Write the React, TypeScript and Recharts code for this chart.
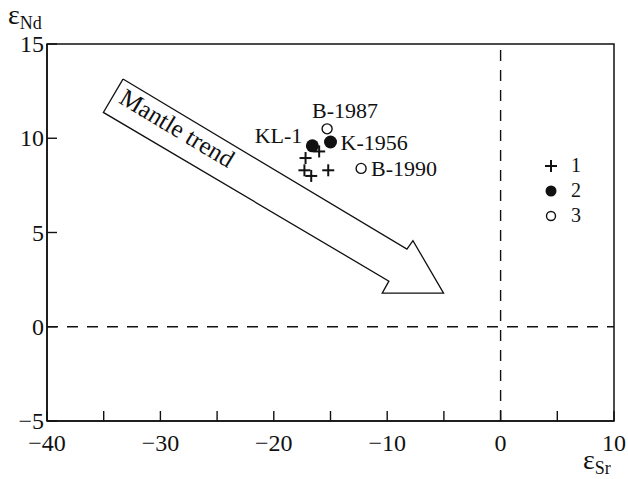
import { ScatterChart, Scatter, XAxis, YAxis, ReferenceLine, ReferenceArea, ReferenceDot } from 'recharts';

// axes
const xTicks = [-40, -35, -30, -25, -20, -15, -10, -5, 0, 5, 10];
const xLabelled = [-40, -30, -20, -10, 0, 10];
const yTicks = [-5, 0, 5, 10, 15];

// 1: crosses, 2: filled circles, 3: open circles
const group1 = [
  { x: -16.0, y: 9.3 },
  { x: -17.2, y: 8.95 },
  { x: -17.3, y: 8.3 },
  { x: -15.2, y: 8.3 },
  { x: -16.7, y: 8.0 },
];
const group2 = [
  { x: -16.6, y: 9.6, name: 'KL-1' },
  { x: -15.0, y: 9.8, name: 'K-1956' },
];
const group3 = [
  { x: -15.3, y: 10.5, name: 'B-1987' },
  { x: -12.3, y: 8.4, name: 'B-1990' },
];
const labelSide: Record<string, string> = {
  'KL-1': 'left',
  'K-1956': 'right',
  'B-1987': 'top',
  'B-1990': 'right',
};

// outline of the "Mantle trend" arrow, in data units
const mantleArrow = [
  { x: -33.3, y: 13.14 },
  { x: -8.26, y: 4.12 },
  { x: -7.73, y: 4.57 },
  { x: -5.03, y: 1.78 },
  { x: -10.44, y: 1.78 },
  { x: -9.85, y: 2.42 },
  { x: -35.03, y: 11.37 },
  { x: -33.3, y: 13.14 },
];
const mantleLabel = { x: -28.9, y: 10.15, text: 'Mantle trend' };

const FONT = '"Liberation Serif", "Times New Roman", serif';
const INK = '#111';

const fmt = (v: number) => (v < 0 ? `\u2212${Math.abs(v)}` : `${v}`);

const XTick = ({ x, y, payload }: any) => (
  <g>
    <line x1={x} y1={y} x2={x} y2={y - 10} stroke={INK} strokeWidth={1.4} />
    {xLabelled.includes(payload.value) && (
      <text x={x} y={y + 30} textAnchor="middle" fontFamily={FONT} fontSize={24} fill={INK}>
        {fmt(payload.value)}
      </text>
    )}
  </g>
);

const YTick = ({ x, y, payload }: any) => (
  <g>
    <line x1={x} y1={y} x2={x + 10} y2={y} stroke={INK} strokeWidth={1.4} />
    <text x={x - 3} y={y + 8} textAnchor="end" fontFamily={FONT} fontSize={24} fill={INK}>
      {fmt(payload.value)}
    </text>
  </g>
);

const PointLabel = ({ cx, cy, name }: { cx: number; cy: number; name: string }) => {
  const side = labelSide[name];
  let tx = cx + 10;
  let ty = cy + 8;
  let anchor: 'start' | 'end' = 'start';
  if (side === 'left') {
    tx = cx - 10;
    ty = cy - 3;
    anchor = 'end';
  } else if (side === 'top') {
    tx = cx - 15;
    ty = cy - 11;
  }
  return (
    <text x={tx} y={ty} textAnchor={anchor} fontFamily={FONT} fontSize={22} fill={INK}>
      {name}
    </text>
  );
};

const Cross = ({ cx, cy }: any) => (
  <g stroke={INK} strokeWidth={2}>
    <line x1={cx - 6} y1={cy} x2={cx + 6} y2={cy} />
    <line x1={cx} y1={cy - 6} x2={cx} y2={cy + 6} />
  </g>
);

const Filled = ({ cx, cy, payload }: any) => (
  <g>
    <circle cx={cx} cy={cy} r={6.5} fill={INK} />
    <PointLabel cx={cx} cy={cy} name={payload.name} />
  </g>
);

const Open = ({ cx, cy, payload }: any) => (
  <g>
    <circle cx={cx} cy={cy} r={5} fill="#fff" stroke={INK} strokeWidth={1.4} />
    <PointLabel cx={cx} cy={cy} name={payload.name} />
  </g>
);

const legendItems = [
  { label: '1', kind: 'cross' },
  { label: '2', kind: 'filled' },
  { label: '3', kind: 'open' },
];

function LegendIcon({ kind }: { kind: string }) {
  return (
    <svg width={16} height={16} style={{ display: 'block' }}>
      {kind === 'cross' && (
        <g stroke={INK} strokeWidth={2}>
          <line x1={2} y1={8} x2={14} y2={8} />
          <line x1={8} y1={2} x2={8} y2={14} />
        </g>
      )}
      {kind === 'filled' && <circle cx={8} cy={8} r={5.5} fill={INK} />}
      {kind === 'open' && <circle cx={8} cy={8} r={4.5} fill="#fff" stroke={INK} strokeWidth={1.4} />}
    </svg>
  );
}

export default function App() {
  return (
    <div style={{ position: 'absolute', left: 0, top: 0, width: 628, height: 479, background: '#fff', fontFamily: FONT }}>
      <ScatterChart width={628} height={479} margin={{ top: 44, right: 14, bottom: 28, left: 7 }}>
        <XAxis
          type="number"
          dataKey="x"
          domain={[-40, 10]}
          ticks={xTicks}
          interval={0}
          tickLine={false}
          tickSize={0}
          tickMargin={0}
          height={30}
          axisLine={{ stroke: INK, strokeWidth: 1.5 }}
          tick={XTick}
          allowDataOverflow
        />
        <YAxis
          type="number"
          dataKey="y"
          domain={[-5, 15]}
          ticks={yTicks}
          interval={0}
          tickLine={false}
          tickSize={0}
          tickMargin={0}
          width={40}
          axisLine={{ stroke: INK, strokeWidth: 1.5 }}
          tick={YTick}
          allowDataOverflow
        />
        <ReferenceArea x1={-40} x2={10} y1={-5} y2={15} fill="none" stroke={INK} strokeWidth={1.5} />
        <ReferenceLine x={0} stroke={INK} strokeWidth={1.4} strokeDasharray="11 9" />
        <ReferenceLine y={0} stroke={INK} strokeWidth={1.4} strokeDasharray="11 9" />
        <Scatter
          data={mantleArrow}
          line={{ stroke: INK, strokeWidth: 1.3, fill: 'none' }}
          shape={() => <g />}
          isAnimationActive={false}
        />
        <ReferenceDot
          x={mantleLabel.x}
          y={mantleLabel.y}
          r={0}
          shape={({ cx, cy }: any) => (
            <text
              x={cx}
              y={cy}
              transform={`rotate(31 ${cx} ${cy})`}
              textAnchor="middle"
              fontFamily={FONT}
              fontSize={25}
              fill={INK}
            >
              {mantleLabel.text}
            </text>
          )}
        />
        <Scatter data={group1} shape={Cross} isAnimationActive={false} />
        <Scatter data={group2} shape={Filled} isAnimationActive={false} />
        <Scatter data={group3} shape={Open} isAnimationActive={false} />
      </ScatterChart>

      <div style={{ position: 'absolute', left: 8, top: 1, color: INK, lineHeight: 1 }}>
        <span style={{ fontSize: 28 }}>ε</span>
        <span style={{ fontSize: 18, position: 'relative', top: 5 }}>Nd</span>
      </div>
      <div style={{ position: 'absolute', left: 583, top: 446, color: INK, lineHeight: 1 }}>
        <span style={{ fontSize: 28 }}>ε</span>
        <span style={{ fontSize: 18, position: 'relative', top: 5 }}>Sr</span>
      </div>

      <div style={{ position: 'absolute', left: 543, top: 153, color: INK }}>
        {legendItems.map((it) => (
          <div key={it.label} style={{ display: 'flex', alignItems: 'center', height: 25, fontSize: 20 }}>
            <LegendIcon kind={it.kind} />
            <span style={{ marginLeft: 12 }}>{it.label}</span>
          </div>
        ))}
      </div>
    </div>
  );
}
